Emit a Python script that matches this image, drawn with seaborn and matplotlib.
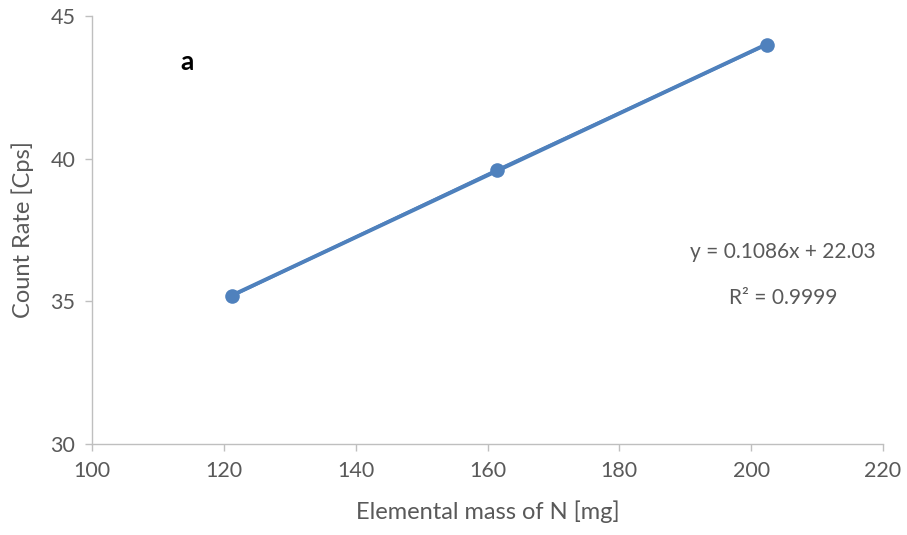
import matplotlib
matplotlib.use("Agg")
import matplotlib.pyplot as plt
import seaborn as sns
import numpy as np
import pandas as pd

mass_n = [121.3, 161.4, 202.4]
count_rate = [35.2, 39.6, 44.0]
x_ticks = [100, 120, 140, 160, 180, 200, 220]
y_ticks = [30, 35, 40, 45]
equation_text = "y = 0.1086x + 22.03"
r2_text = "R² = 0.9999"
panel_label = "a"

sns.set_theme(style="white")
plt.rcParams['font.family'] = ['Lato', 'DejaVu Sans']

df = pd.DataFrame({"mass": mass_n, "rate": count_rate})

fig = plt.figure(figsize=(9.07, 5.35), dpi=100)
ax = fig.add_axes([92/907, (535-444)/535, (883-92)/907, (444-16)/535])

blue = "#4F81BD"
# trendline from data
coef = np.polyfit(df["mass"], df["rate"], 1)
xs = np.array([min(mass_n), max(mass_n)])
ax.plot(xs, np.polyval(coef, xs), color="#4A7EBB", lw=2.8, zorder=2)
sns.lineplot(data=df, x="mass", y="rate", ax=ax, color=blue, lw=2.2,
             marker="o", markersize=10.5, markeredgewidth=0, zorder=3)

ax.set_xlim(100, 220)
ax.set_ylim(30, 45)
ax.set_xticks(x_ticks)
ax.set_yticks(y_ticks)
ax.set_xlabel("Elemental mass of N [mg]", fontsize=17, color="#595959", labelpad=14)
ax.set_ylabel("Count Rate [Cps]", fontsize=17, color="#595959", labelpad=12)

for s in ["top", "right"]:
    ax.spines[s].set_visible(False)
for s in ["left", "bottom"]:
    ax.spines[s].set_color("#BFBFBF")
    ax.spines[s].set_linewidth(1.0)
ax.tick_params(axis="both", which="both", direction="out", length=5, width=1.0,
               color="#BFBFBF", labelsize=15.5, labelcolor="#595959", pad=7)
ax.tick_params(axis="x", bottom=True)
ax.tick_params(axis="y", left=True)
ax.grid(False)

ax.text(187/907, (535-62)/535, panel_label, transform=fig.transFigure,
        fontsize=19, fontweight="bold", ha="center", va="center", color="black")
ax.text(783/907, (535-252)/535, equation_text, transform=fig.transFigure,
        fontsize=15, ha="center", va="center", color="#595959")
ax.text(783/907, (535-298)/535, r2_text, transform=fig.transFigure,
        fontsize=15, ha="center", va="center", color="#595959")

fig.savefig("out.png", dpi=100)
